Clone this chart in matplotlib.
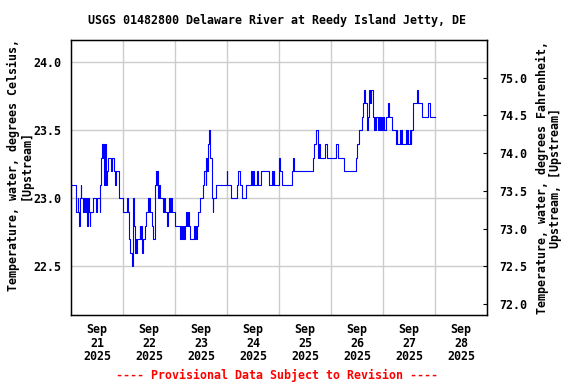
import numpy as np
import matplotlib
matplotlib.use("Agg")
import matplotlib.pyplot as plt
import matplotlib.dates as mdates
from matplotlib.ticker import FixedLocator, NullFormatter

# ---- data (change points, hours since 2025-09-21 00:00, step values in deg C)
hours = [0, 2.5, 3.0, 3.3, 3.7, 4.0, 4.4, 4.8, 5.5, 5.9, 6.4, 6.8, 7.0, 7.4, 7.6, 7.9, 8.1, 8.6, 8.9,
         10.1, 11.6, 11.9, 13.2, 13.6, 14.0, 14.3, 14.6, 14.9, 15.3, 15.6, 16.0, 16.4, 16.8, 17.2,
         18.4, 18.7, 19.9, 20.3, 20.6, 22.1, 24.0, 25.8, 26.4, 26.8, 27.2, 27.7, 28.2, 28.4, 29.1,
         29.6, 29.8, 30.2, 30.6, 31.7, 32.0, 32.3, 32.6, 32.9, 33.4, 34.2, 34.8, 35.6, 35.9, 36.2,
         36.5, 37.6, 38.0, 38.9, 39.3, 39.6, 39.9, 40.3, 40.6, 41.0, 42.5, 43.0, 43.4, 44.2, 44.7,
         45.2, 45.6, 46.0, 46.4, 48.2, 50.2, 50.6, 51.0, 51.5, 52.0, 52.5, 53.0, 53.5, 53.9, 54.3,
         54.8, 56.6, 57.0, 57.4, 57.8, 58.2, 58.8, 59.4, 60.9, 61.5, 62.2, 62.5, 62.8, 63.1, 63.6,
         64.3, 64.9, 65.4, 65.7, 67.0, 71.8, 72.1, 74.0, 76.7, 77.2, 78.2, 78.7, 80.9, 83.3, 83.7,
         84.0, 84.3, 85.8, 86.3, 87.8, 91.6, 92.7, 93.2, 93.5, 93.8, 95.9, 96.1, 96.4, 97.3, 102.0,
         102.6, 103.0, 111.5, 112.3, 113.0, 113.9, 114.2, 114.5, 114.9, 117.3, 118.3, 122.4, 123.3,
         126.1, 131.5, 132.2, 132.8, 134.3, 134.9, 135.2, 135.8, 136.6, 136.9, 137.4, 138.0, 138.3,
         139.2, 139.8, 140.1, 140.4, 140.7, 141.7, 142.0, 142.4, 142.7, 143.0, 143.4, 143.7, 144.0, 144.5,
         145.4, 146.3, 146.9, 148.2, 150.0, 150.3, 150.6, 151.8, 152.1, 152.4, 152.7, 154.6, 154.9,
         155.2, 155.5, 156.4, 156.7, 157.1, 157.7, 159.8, 160.3, 162.0, 164.8, 165.7, 168.0]
temps_c = [23.1, 22.9, 23.0, 22.9, 22.8, 23.0, 23.1, 23.0, 22.9, 23.0, 22.9, 23.0, 22.9, 23.0, 22.8, 23.0, 22.9, 22.8, 22.9,
           23.0, 22.9, 23.0, 22.9, 23.1, 23.3, 23.4, 23.3, 23.4, 23.1, 23.4, 23.2, 23.1, 23.2, 23.3,
           23.2, 23.3, 23.2, 23.1, 23.2, 23.0, 22.9, 23.0, 22.9, 22.7, 22.6, 22.6, 22.5, 23.0, 22.8,
           22.6, 22.7, 22.6, 22.7, 22.8, 22.7, 22.8, 22.7, 22.6, 22.7, 22.8, 22.9, 23.0, 22.9, 23.0,
           22.9, 22.8, 22.7, 23.1, 23.2, 23.1, 23.2, 23.0, 23.1, 23.0, 22.9, 23.0, 22.9, 22.8, 22.9,
           23.0, 22.9, 23.0, 22.9, 22.8, 22.7, 22.8, 22.7, 22.8, 22.7, 22.8, 22.9, 22.8, 22.9, 22.8,
           22.7, 22.8, 22.7, 22.8, 22.7, 22.8, 22.9, 23.0, 23.1, 23.2, 23.1, 23.3, 23.2, 23.4, 23.5,
           23.3, 23.0, 22.9, 23.0, 23.1, 23.2, 23.1, 23.0, 23.1, 23.2, 23.1, 23.0, 23.1, 23.2, 23.1,
           23.2, 23.1, 23.2, 23.1, 23.2, 23.1, 23.2, 23.1, 23.2, 23.1, 23.2, 23.3, 23.2, 23.1, 23.2,
           23.3, 23.2, 23.3, 23.4, 23.5, 23.4, 23.3, 23.4, 23.3, 23.4, 23.3, 23.4, 23.3,
           23.2, 23.3, 23.4, 23.5, 23.6, 23.7, 23.8, 23.7, 23.5, 23.6, 23.8, 23.7, 23.8,
           23.6, 23.5, 23.6, 23.5, 23.6, 23.5, 23.6, 23.5, 23.6, 23.5, 23.6, 23.5, 23.6, 23.5,
           23.6, 23.7, 23.6, 23.5, 23.4, 23.5, 23.4, 23.5, 23.4, 23.5, 23.4, 23.5, 23.4,
           23.5, 23.4, 23.5, 23.4, 23.5, 23.7, 23.8, 23.7, 23.6, 23.7, 23.6, 23.6]

day_labels = ["Sep\n21\n2025", "Sep\n22\n2025", "Sep\n23\n2025", "Sep\n24\n2025",
              "Sep\n25\n2025", "Sep\n26\n2025", "Sep\n27\n2025", "Sep\n28\n2025"]
c_ticks = [22.5, 23.0, 23.5, 24.0]
f_ticks = [72.0, 72.5, 73.0, 73.5, 74.0, 74.5, 75.0]

title = "USGS 01482800 Delaware River at Reedy Island Jetty, DE"
footer = "---- Provisional Data Subject to Revision ----"

FONT = "DejaVu Sans Mono"
FS = 8.4

base = np.datetime64("2025-09-21T00:00")
times = base + (np.array(hours) * 60).astype(int).astype("timedelta64[m]")

fig = plt.figure(figsize=(5.76, 3.84), dpi=100)
ax = fig.add_axes([71/576, 1 - 315/384, (487-71)/576, (315-40)/384])

ax.plot(times, temps_c, color="#0000ff", lw=0.8, drawstyle="steps-post")

x0 = np.datetime64("2025-09-21T00:00")
x1 = np.datetime64("2025-09-29T00:00")
ax.set_xlim(x0, x1)
ylo, yhi = 22.143, 24.165
ax.set_ylim(ylo, yhi)

# x: gridlines at midnight, labels at noon
midnights = [mdates.date2num(x0 + np.timedelta64(d, "D")) for d in range(1, 8)]
noons = [mdates.date2num(x0 + np.timedelta64(d * 24 + 12, "h")) for d in range(8)]
ax.xaxis.set_major_locator(FixedLocator(noons))
ax.set_xticklabels(day_labels, family=FONT, fontsize=FS, fontweight="bold", linespacing=1.05)
ax.xaxis.set_minor_locator(FixedLocator(midnights))
ax.xaxis.set_minor_formatter(NullFormatter())
ax.tick_params(axis="x", which="both", length=0, pad=6)
ax.grid(True, which="minor", axis="x", color="#cccccc", lw=1)

ax.set_yticks(c_ticks)
ax.set_yticklabels([f"{v:.1f}" for v in c_ticks], family=FONT, fontsize=FS, fontweight="bold")
ax.tick_params(axis="y", length=0, pad=7)
ax.grid(True, which="major", axis="y", color="#cccccc", lw=1)
ax.set_axisbelow(True)

for s in ax.spines.values():
    s.set_color("black")
    s.set_linewidth(1)

ax2 = ax.twinx()
ax2.set_ylim(ylo * 1.8 + 32, yhi * 1.8 + 32)
ax2.set_yticks(f_ticks)
ax2.set_yticklabels([f"{v:.1f}" for v in f_ticks], family=FONT, fontsize=FS, fontweight="bold")
ax2.tick_params(axis="y", direction="in", length=3, pad=9, color="black")

fig.text(20/576, 1 - 165/384, "Temperature, water, degrees Celsius,\n[Upstream]",
         rotation=90, ha="center", va="center", family=FONT, fontsize=FS,
         fontweight="bold", linespacing=1.0)
fig.text(549/576, 1 - 178/384, "Temperature, water, degrees Fahrenheit,\nUpstream, [Upstream]",
         rotation=90, ha="center", va="center", family=FONT, fontsize=FS,
         fontweight="bold", linespacing=1.0)
fig.text(277/576, 1 - 20/384, title, ha="center", va="center", family=FONT,
         fontsize=FS, fontweight="bold")
fig.text(277/576, 1 - 375/384, footer, ha="center", va="center", family=FONT,
         fontsize=FS, fontweight="bold", color="#ff0000")

fig.savefig("out.png", dpi=100)
